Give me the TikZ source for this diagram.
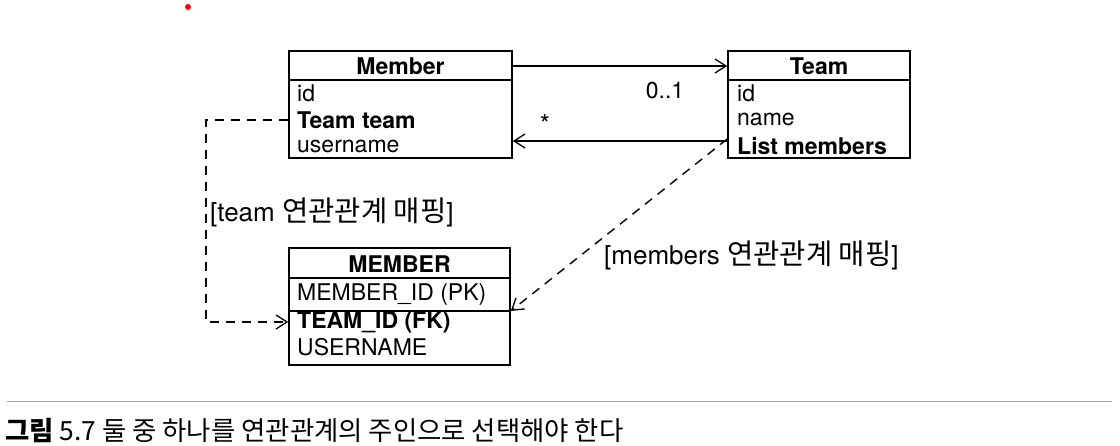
\documentclass[tikz,border=0pt]{standalone}
\usepackage{fontspec}
\setmainfont{TeX Gyre Heros}
\newfontfamily\kr[Scale=1.1]{Noto Sans CJK KR}
\usetikzlibrary{arrows.meta, positioning, calc}

\begin{document}
\begin{tikzpicture}[
    x=1pt, y=-1pt,
    font=\fontsize{23}{27}\selectfont,
    classbox/.style={draw, line width=1.6pt, minimum width=223pt, minimum height=107pt, inner sep=0pt},
    title/.style={font=\fontsize{23}{27}\selectfont\bfseries, inner sep=0pt},
    field/.style={anchor=west, inner sep=0pt},
    maplabel/.style={anchor=west, inner sep=0pt, font=\fontsize{26}{30}\selectfont},
    assoc/.style={line width=1.3pt, -{Straight Barb[length=11pt, width=14pt, line width=1.3pt]}},
    mapping/.style={line width=1.4pt, dash pattern=on 9pt off 7pt, -{Straight Barb[length=11pt, width=14pt, line width=1.3pt]}}
]
    \useasboundingbox (0,0) rectangle (1120,446);

    % Entities
    \node (member) [classbox] at (400.5,104.5) {};
    \node (membertitle) [title] at (400.5,66) {Member};
    \node (memberid) [field] at (297,93) {id};
    \node (memberteam) [field] at (297,120) {\bfseries Team team};
    \node (membername) [field] at (297,146) {username};
    \draw[line width=1.4pt] ([yshift=-30pt]member.north west) -- ([yshift=-30pt]member.north east);

    \node (team) [classbox, minimum width=182pt] at (819,104.5) {};
    \node (teamtitle) [title] at (819,66) {Team};
    \node (teamid) [field] at (737,93) {id};
    \node (teamname) [field] at (737,119) {name};
    \node (teamlist) [field] at (737,146) {\bfseries List members};
    \draw[line width=1.4pt] ([yshift=-30pt]team.north west) -- ([yshift=-30pt]team.north east);

    % Table
    \node (dbtable) [classbox, minimum width=221pt, minimum height=117pt] at (399.5,306.5) {};
    \node (dbtitle) [title] at (399.5,264) {MEMBER};
    \node (dbid) [field] at (297,295) {MEMBER\_ID (PK)};
    \node (dbteam) [field] at (297,322) {\bfseries TEAM\_ID (FK)};
    \node (dbname) [field] at (297,347) {USERNAME};
    \draw[line width=1.4pt] ([yshift=-31pt]dbtable.north west) -- ([yshift=-31pt]dbtable.north east);
    \coordinate (dbsep) at (399.5,311);
    \draw[line width=1.4pt] (dbtable.west |- dbsep) -- (dbtable.east |- dbsep);

    % Associations
    \draw[assoc] (member.east |- membertitle) -- (team.west |- membertitle);
    \node (one) at (665,91) {0..1};
    \coordinate (back) at (0,141);
    \draw[assoc] (team.west |- back) -- (member.east |- back);
    \node (many) at (545,124) {\fontsize{26}{27}\selectfont *};

    % Mappings
    \coordinate (bend) at (206,0);
    \draw[mapping] (member.west |- memberteam) -| (bend |- dbteam) -- (dbtable.west |- dbteam);
    \node (teammap) [maplabel] at (210,212) {[team {\kr 연관관계 매핑}]};
    \coordinate (listend) at (0,139);
    \draw[mapping] (team.west |- listend) -- (dbtable.east |- dbsep);
    \node (membersmap) [maplabel] at (604,255) {[members {\kr 연관관계 매핑}]};

    % Caption
    \coordinate (ruleleft) at (7,401);
    \coordinate (ruleright) at (1112,401);
    \draw[gray!70, line width=0.8pt] (ruleleft) -- (ruleright);
    \node (caption) [field] at (5,430) {\fontsize{24}{28}\kr{\bfseries 그림} 5.7 둘 중 하나를 연관관계의 주인으로 선택해야 한다};

    \fill[red] (188,7) circle (3pt);
\end{tikzpicture}
\end{document}
